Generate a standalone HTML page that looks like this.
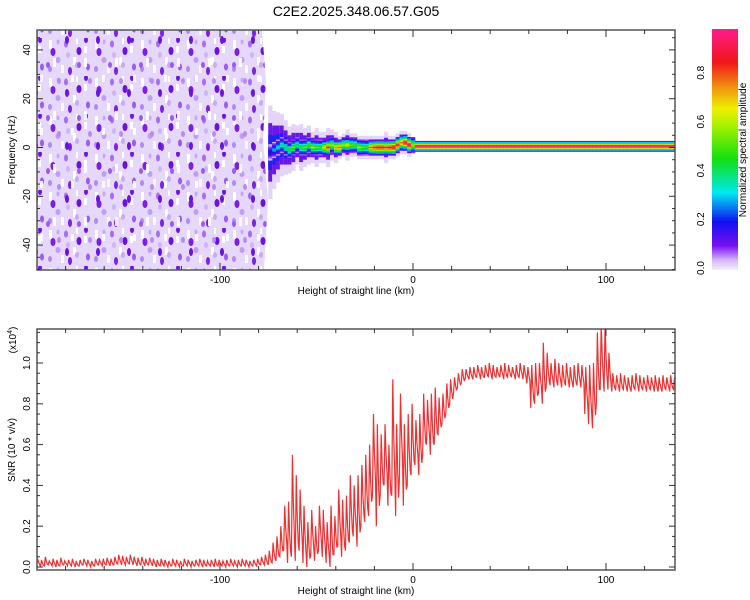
<!DOCTYPE html>
<html><head><meta charset="utf-8"><style>
body{margin:0;background:#fff;}
svg{display:block;font-family:"Liberation Sans",sans-serif;}
</style></head><body>
<svg id="c" width="750" height="600" viewBox="0 0 750 600" xmlns="http://www.w3.org/2000/svg">
<defs>
<pattern id="speck" width="46" height="38" patternUnits="userSpaceOnUse">
<rect width="46" height="38" fill="#e6d8fa"/>
<rect x="3" y="2" width="3" height="9" fill="#fff"/><rect x="27" y="19" width="3" height="8" fill="#fff"/><rect x="15" y="27" width="3" height="8" fill="#fbf8ff"/><rect x="38" y="8" width="3" height="7" fill="#fff"/><rect x="30" y="0" width="2" height="6" fill="#fff"/>
<ellipse cx="7" cy="14" rx="2.5" ry="4" fill="#7a1ee8"/><ellipse cx="20" cy="6" rx="2" ry="3.5" fill="#a66cf2"/>
<ellipse cx="33" cy="13" rx="2.5" ry="4" fill="#6a12e0"/><ellipse cx="42" cy="29" rx="2" ry="3.5" fill="#9a5cf0"/>
<ellipse cx="12" cy="22" rx="2.5" ry="3" fill="#c09cf6"/><ellipse cx="24" cy="33" rx="2" ry="4" fill="#7a22e6"/>
<ellipse cx="4" cy="31" rx="2" ry="3" fill="#b08af4"/><ellipse cx="22" cy="17" rx="2" ry="3" fill="#cfb4f8"/>
<ellipse cx="40" cy="2" rx="2" ry="3" fill="#6a18e0"/><ellipse cx="12" cy="4" rx="1.5" ry="2.5" fill="#c6a8f6"/>
<ellipse cx="31" cy="27" rx="2" ry="3" fill="#c8aaf6"/>
</pattern>
<pattern id="speck2" width="31" height="53" patternUnits="userSpaceOnUse">
<ellipse cx="5" cy="40" rx="2" ry="4" fill="#6a14e0"/><ellipse cx="17" cy="12" rx="2" ry="3" fill="#9a5cee"/>
<rect x="22" y="5" width="3" height="9" fill="#fff" opacity="0.9"/>
<rect x="9" y="22" width="3" height="7" fill="#fff" opacity="0.9"/><ellipse cx="28" cy="28" rx="2" ry="3" fill="#b88cf2"/>
</pattern>
<linearGradient id="cbar" x1="0" y1="1" x2="0" y2="0">
<stop offset="0" stop-color="#f4eefc"/><stop offset="0.04" stop-color="#d6b8f6"/><stop offset="0.1" stop-color="#7a10f0"/>
<stop offset="0.2" stop-color="#1010f0"/><stop offset="0.32" stop-color="#00e8f0"/><stop offset="0.46" stop-color="#10e010"/>
<stop offset="0.6" stop-color="#a8f000"/><stop offset="0.67" stop-color="#f0f000"/><stop offset="0.76" stop-color="#f09010"/>
<stop offset="0.86" stop-color="#f01818"/><stop offset="1" stop-color="#ff1a8c"/>
</linearGradient>
</defs>
<text x="356" y="16" font-size="14" text-anchor="middle">C2E2.2025.348.06.57.G05</text>
<g id="topPanel"></g>
<g id="botPanel"></g>
<rect x="712" y="29" width="26" height="241" fill="url(#cbar)"/>
<g id="cbTicksG"></g>
<text transform="translate(746,150) rotate(-90)" font-size="10" text-anchor="middle">Normalized spectral amplitude</text>
</svg>
<script>
// ---------- data ----------
const kmStart = -195, kmStep = 2;
const snrHi = [0.04,0.035,0.05,0.03,0.04,0.035,0.045,0.03,0.035,0.04,0.03,0.035,0.04,0.035,0.03,0.04,0.035,0.04,0.045,0.04,0.05,0.06,0.055,0.05,0.06,0.05,0.045,0.05,0.04,0.045,0.04,0.035,0.04,0.035,0.03,0.04,0.035,0.03,0.04,0.035,0.03,0.035,0.04,0.035,0.03,0.035,0.04,0.035,0.03,0.035,0.04,0.03,0.035,0.04,0.035,0.03,0.035,0.04,0.05,0.06,
0.08,0.12,0.15,0.2,0.3,0.32,0.55,0.45,0.38,0.3,0.22,0.28,0.2,0.3,0.28,0.22,0.3,0.25,0.38,0.33,0.35,0.45,0.4,0.45,0.5,0.55,0.6,0.75,0.7,0.65,0.7,0.6,0.92,0.7,0.85,0.7,0.75,0.8,
0.72,0.75,0.85,0.82,0.85,0.88,0.83,0.85,0.9,0.92,0.93,0.95,0.97,0.97,0.98,0.98,0.99,0.98,0.99,1.0,0.99,0.98,0.99,1.0,0.99,0.98,0.99,1.0,0.99,0.98,0.99,1.0,1.0,1.1,1.05,1.0,1.02,1.0,0.99,1.0,0.98,0.99,1.0,0.99,0.98,0.99,1.0,1.15,1.2,1.2,1.05,0.95,0.94,0.95,0.94,0.93,0.94,0.95,0.94,0.93,0.94,0.93,0.94,0.93,0.94,0.93,0.94,0.93,0.94,0.93,0.94,0.93,0.94,0.93,0.94,0.93];
const snrLo = [0.005,0.0,0.005,0.01,0.005,0.0,0.005,0.01,0.005,0.005,0.0,0.005,0.01,0.005,0.0,0.005,0.01,0.005,0.01,0.005,0.01,0.015,0.01,0.01,0.015,0.01,0.005,0.01,0.005,0.01,0.005,0.0,0.005,0.005,0.0,0.005,0.005,0.0,0.005,0.005,0.0,0.005,0.005,0.0,0.005,0.005,0.0,0.005,0.005,0.0,0.005,0.005,0.0,0.005,0.005,0.0,0.005,0.005,0.01,0.01,
0.01,0.02,0.03,0.05,0.08,0.02,0.05,0.03,0.08,0.02,0.0,0.05,0.03,0.08,0.05,0.02,0.0,0.06,0.1,0.05,0.08,0.12,0.15,0.1,0.2,0.22,0.25,0.35,0.2,0.35,0.4,0.3,0.35,0.25,0.45,0.3,0.4,0.45,
0.5,0.45,0.55,0.6,0.55,0.6,0.65,0.7,0.75,0.8,0.85,0.88,0.9,0.92,0.92,0.92,0.93,0.92,0.93,0.93,0.92,0.93,0.93,0.92,0.93,0.93,0.92,0.93,0.92,0.9,0.78,0.8,0.85,0.8,0.88,0.89,0.88,0.89,0.88,0.89,0.88,0.88,0.89,0.88,0.75,0.7,0.68,0.8,0.87,0.86,0.87,0.86,0.87,0.86,0.87,0.86,0.86,0.87,0.86,0.87,0.86,0.87,0.86,0.86,0.86,0.87,0.86,0.87,0.86,0.87,0.86,0.87,0.86];
const ridgeStart = -75;
const ridgeAmp = [0.2,0.3,0.35,0.4,0.45,0.5,0.55,0.45,0.5,0.55,0.5,0.6,0.55,0.5,0.7,0.85,0.6,0.75,0.8,0.6,0.65,0.55,0.5,0.6,0.55,0.5,0.8,0.85,0.9,0.9,0.85,0.9,0.95,0.9,0.8,0.95,0.95,0.6,
1,1,1,1,1,1,1,1,1,1,1,1,1,1,1,1,1,1,1,1,1,1,1,1,1,1,1,1,1,1,1,1,1,1,1,1,1,1,1,1,1,1,1,1,1,1,1,1,1,1,1,1,1,1,1,1,1,1,1,1,1,1,1,1,1,1,1,1,1,1,1,1,1,1];
const ridgeFreq = [-2,-1,0,1,0,-1,0,1,0,0,1,0,0,0,0,0,1,0,0,1,1,1,1,0,0,0,0,0,0,0,0,0,0,1,2,2,1,1,
0.5,0.5,0.5,0.5,0.5,0.5,0.5,0.5,0.5,0.5,0.5,0.5,0.5,0.5,0.5,0.5,0.5,0.5,0.5,0.5,0.5,0.5,0.5,0.5,0.5,0.5,0.5,0.5,0.5,0.5,0.5,0.5,0.5,0.5,0.5,0.5,0.5,0.5,0.5,0.5,0.5,0.5,0.5,0.5,0.5,0.5,0.5,0.5,0.5,0.5,0.5,0.5,0.5,0.5,0.5,0.5,0.5,0.5,0.5,0.5,0.5,0.5,0.5,0.5,0.5,0.5,0.5,0.5,0.5,0.5,0.5];
// purple halo half-width (Hz) around ridge, -75..0 km
const ridgeHalo = [12,10,9,8,7,6,6,5,6,5,5,4,5,4,4,5,4,4,3,3,4,3,3,3,3,3,3,3,3,3,4,3,3,3,3,3,3,2];
const ridgeProfile = [0.15,0.3,0.45,0.65,0.85,1,0.85,0.65,0.45,0.3,0.15];
const xTicks = [-100,0,100];
const yTicksTop = [-40,-20,0,20,40];
const yTicksBot = [0.0,0.2,0.4,0.6,0.8,1.0];
const cbTicks = [0.0,0.2,0.4,0.6,0.8];

// ---------- axes ----------
const L=37,R=675;
const xs = km => 413 + (km)*1.93;
const yTop = f => 147.5 - f*2.44;
const yBot = v => 567 - v*204;
const yCb = v => 268 - v*244;
const NS='http://www.w3.org/2000/svg';
function mk(tag,attrs,parent){const e=document.createElementNS(NS,tag);for(const k in attrs)e.setAttribute(k,attrs[k]);parent.appendChild(e);return e;}
function cmap(v){
  const st=[[0,[244,238,252]],[0.04,[214,184,246]],[0.1,[122,16,240]],[0.2,[16,16,240]],[0.32,[0,232,240]],[0.46,[16,224,16]],[0.6,[168,240,0]],[0.67,[240,240,0]],[0.76,[240,144,16]],[0.86,[240,24,24]],[1,[255,26,140]]];
  v=Math.max(0,Math.min(1,v));
  for(let i=1;i<st.length;i++){if(v<=st[i][0]){const a=st[i-1],b=st[i],t=(v-a[0])/(b[0]-a[0]);return 'rgb('+a[1].map((c,j)=>Math.round(c+(b[1][j]-c)*t)).join(',')+')';}}
  return 'rgb(255,26,140)';
}
const gTop=document.getElementById('topPanel'), gBot=document.getElementById('botPanel'), gCb=document.getElementById('cbTicksG');

// ----- top panel -----
const noiseD='M'+L+',30 L262,30 L266,80 L263,140 L268,200 L264,270 L'+L+',270 Z';
const noise=mk('path',{d:noiseD,fill:'url(#speck)'},gTop);


const noise2=mk('path',{d:noiseD,fill:'url(#speck2)'},gTop);


const halo=mk('g',{},gTop);


const hn=Math.min(ridgeHalo.length,ridgeFreq.length);
for(let i=0;i<hn;i++){
  const k=ridgeStart+i*kmStep, x0=xs(k), w=xs(k+kmStep)-x0, h=ridgeHalo[i], fc=ridgeFreq[i];
  const a=mk('rect',{x:x0.toFixed(2),y:yTop(fc+h*1.6).toFixed(2),width:(w+0.3).toFixed(2),height:(h*3.2*2.44).toFixed(2),fill:'#e4d4fa'},halo);
  
  
  const b=mk('rect',{x:x0.toFixed(2),y:yTop(fc+h).toFixed(2),width:(w+0.3).toFixed(2),height:(h*2*2.44).toFixed(2),fill:'#6a18e8'},halo);
  
  
  const c=mk('rect',{x:x0.toFixed(2),y:yTop(fc+h*0.6).toFixed(2),width:(w+0.3).toFixed(2),height:(h*1.2*2.44).toFixed(2),fill:'#2020f0'},halo);
  
  
}
const ridge=mk('g',{},gTop);


const rn=Math.min(ridgeAmp.length,ridgeFreq.length);
const half=(ridgeProfile.length-1)/2;
for(let i=0;i<rn;i++){
  const k=ridgeStart+i*kmStep; if(xs(k)>=R) break;
  const x0=xs(k), w=Math.min(xs(k+kmStep),R)-x0;
  const rowHz = k<0 ? 0.6 : 0.4;
  for(let j=0;j<ridgeProfile.length;j++){
    const v=ridgeAmp[i]*ridgeProfile[j];
    const f=ridgeFreq[i]+(half-j)*rowHz;
    const c=mk('rect',{x:x0.toFixed(2),y:(yTop(f+rowHz/2)).toFixed(2),width:(w+0.3).toFixed(2),height:(rowHz*2.44+0.1).toFixed(2),fill:cmap(v)},ridge);
    
    
  }
}
function frame(g,y1,y2,name){
  const f=mk('rect',{x:L,y:y1,width:R-L,height:y2-y1,fill:'none',stroke:'#555','stroke-width':1.5},g);
  
  
  for(let k=-180;k<=130;k+=20){
    const big=(k%100===0), len=big?7:4;
    mk('line',{x1:xs(k),x2:xs(k),y1:y1,y2:y1+len,stroke:'#333','stroke-width':1},g);
    mk('line',{x1:xs(k),x2:xs(k),y1:y2,y2:y2-len,stroke:'#333','stroke-width':1},g);
  }
  xTicks.forEach(k=>{
    const t=mk('text',{x:xs(k),y:y2+13,'font-size':10,'text-anchor':'middle'},g);t.textContent=k;
    
    
  });
  const xl=mk('text',{x:356,y:y2+24,'font-size':10,'text-anchor':'middle'},g);xl.textContent='Height of straight line (km)';
  
  
}
frame(gTop,30,270,'top-plot-frame');
for(let f=-50;f<=48;f+=5){
  const big=f%20===0, len=big?6:3;
  mk('line',{x1:L,x2:L+len,y1:yTop(f),y2:yTop(f),stroke:'#333'},gTop);
  mk('line',{x1:R,x2:R-len,y1:yTop(f),y2:yTop(f),stroke:'#333'},gTop);
}
yTicksTop.forEach(f=>{
  const t=mk('text',{transform:`translate(30,${yTop(f)}) rotate(-90)`,'font-size':10,'text-anchor':'middle'},gTop);t.textContent=f;
  
  
});
const yl=mk('text',{transform:'translate(15,150) rotate(-90)','font-size':10,'text-anchor':'middle'},gTop);yl.textContent='Frequency (Hz)';



// ----- bottom panel -----
let pts=[];
const n=Math.min(snrHi.length,snrLo.length);
for(let i=0;i<n;i++){
  const k=kmStart+i*kmStep;
  const x=xs(k); if(x>R+4) break;
  pts.push(x.toFixed(2)+','+yBot(snrLo[i]).toFixed(2));
  pts.push((x+1).toFixed(2)+','+yBot(snrHi[i]).toFixed(2));
  pts.push((x+2).toFixed(2)+','+yBot((snrLo[i]+snrHi[i])/2).toFixed(2));
  pts.push((x+3).toFixed(2)+','+yBot(snrLo[i]+(snrHi[i]-snrLo[i])*0.2).toFixed(2));
}
const clip=mk('clipPath',{id:'bclip'},gBot);mk('rect',{x:L,y:329,width:R-L,height:241},clip);
const line=mk('polyline',{points:pts.join(' '),fill:'none',stroke:'#f03030','stroke-width':1.2,'clip-path':'url(#bclip)'},gBot);


frame(gBot,329,570,'bottom-plot-frame');
for(let v=0;v<=1.17;v+=0.05){
  const big=Math.abs(v*5-Math.round(v*5))<1e-6, len=big?6:3;
  mk('line',{x1:L,x2:L+len,y1:yBot(v),y2:yBot(v),stroke:'#333'},gBot);
  mk('line',{x1:R,x2:R-len,y1:yBot(v),y2:yBot(v),stroke:'#333'},gBot);
}
yTicksBot.forEach(v=>{
  const t=mk('text',{transform:`translate(30,${yBot(v)}) rotate(-90)`,'font-size':10,'text-anchor':'middle'},gBot);t.textContent=v.toFixed(1);
  
  
});
const yl2=mk('text',{transform:'translate(15,450) rotate(-90)','font-size':10,'text-anchor':'middle'},gBot);yl2.textContent='SNR (10 * v/v)';


const ex=mk('text',{transform:'translate(16,340) rotate(-90)','font-size':10,'text-anchor':'middle'},gBot);


ex.appendChild(document.createTextNode('(x10'));
const sup=mk('tspan',{'font-size':7,dy:-4},ex);sup.textContent='4';
const cl=mk('tspan',{dy:4},ex);cl.textContent=')';

// ----- colorbar ticks -----
cbTicks.forEach(v=>{
  const t=mk('text',{transform:`translate(704,${yCb(v)}) rotate(-90)`,'font-size':10,'text-anchor':'middle'},gCb);t.textContent=v.toFixed(1);
  
  
});
</script>
</body></html>
